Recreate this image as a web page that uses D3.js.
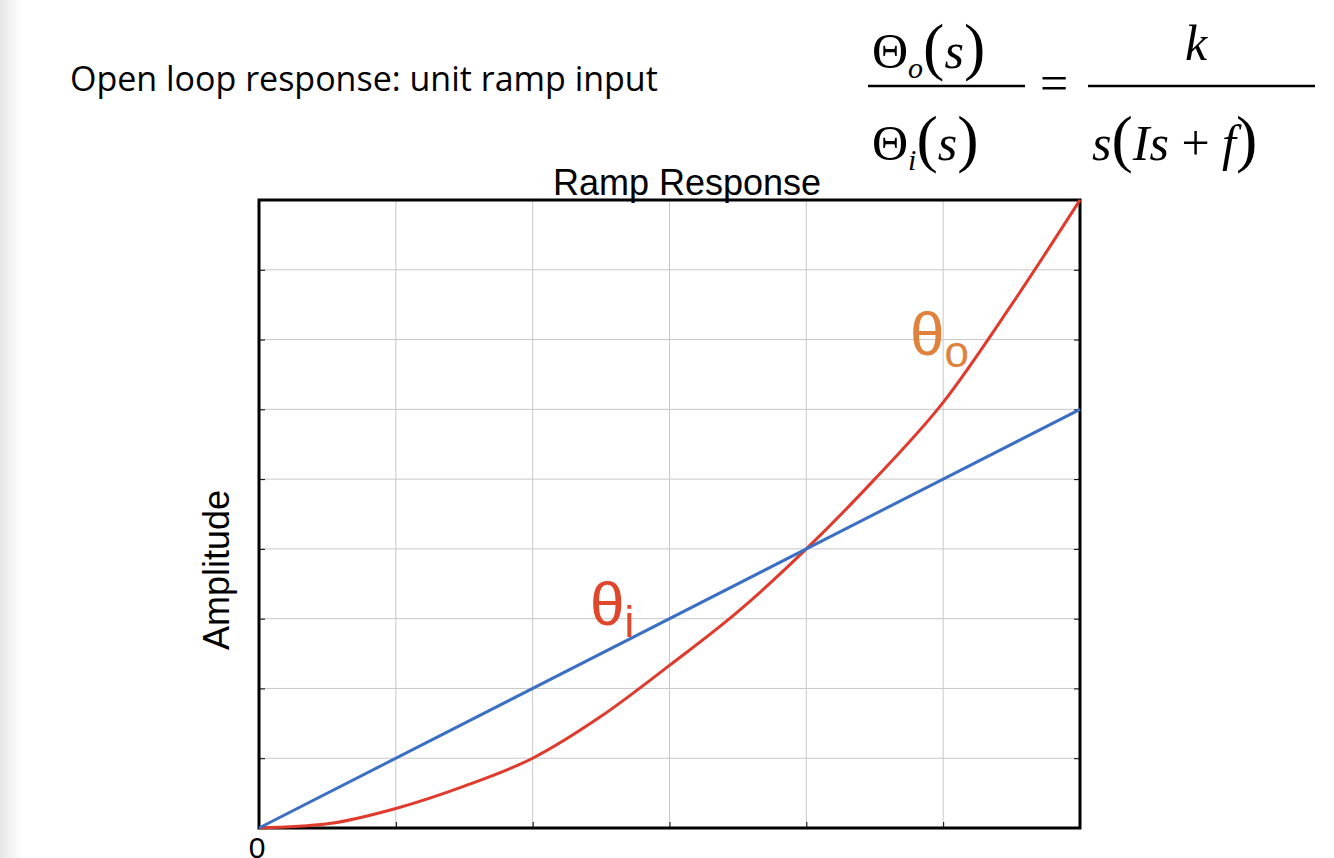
<!DOCTYPE html>
<html><head><meta charset="utf-8">
<script src="https://cdn.jsdelivr.net/npm/d3@7"></script>
<style>body{margin:0;background:#fff}</style>
</head><body>
<svg id="c" width="1334" height="858"></svg>
<script>
// Data (time in grid units, amplitude in grid units)
const timeTicks = [0, 1, 2, 3, 4, 5, 6];
const ampTicks = [0, 1, 2, 3, 4, 5, 6, 7, 8, 9];
const inputT = [0, 6];
const inputY = [0, 6];
const outT = [0, 0.5, 1, 1.5, 2, 2.5, 3, 3.5, 4, 4.5, 5, 5.5, 6];
const outY = [0, 0.06, 0.28, 0.6, 1.0, 1.6, 2.33, 3.1, 4.0, 5.0, 6.1, 7.5, 9.0];

const svg = d3.select("#c");
const pLeft = 259, pRight = 1080, pTop = 200, pBottom = 828;
const x = d3.scaleLinear().domain([0, 6]).range([pLeft, pRight]);
const y = d3.scaleLinear().domain([0, 9]).range([pBottom, pTop]);

// left page shade
const g0 = svg.append("defs").append("linearGradient").attr("id", "sh");
g0.append("stop").attr("offset", 0).attr("stop-color", "#e6e6e6");
g0.append("stop").attr("offset", 1).attr("stop-color", "#fff");
svg.append("rect").attr("width", 22).attr("height", 858).attr("fill", "url(#sh)");

// grid
svg.append("g").selectAll("line").data(timeTicks.slice(1, -1)).join("line")
    .attr("x1", d => x(d)).attr("x2", d => x(d)).attr("y1", pTop).attr("y2", pBottom)
    .attr("stroke", "#c8c8c8");
svg.append("g").selectAll("line").data(ampTicks.slice(1, -1)).join("line")
    .attr("y1", d => y(d)).attr("y2", d => y(d)).attr("x1", pLeft).attr("x2", pRight)
    .attr("stroke", "#c8c8c8");

// ticks
svg.append("g").attr("transform", `translate(0,${pBottom})`)
    .call(d3.axisBottom(x).tickValues(timeTicks).tickSize(-6).tickFormat(""))
    .call(g => g.select(".domain").remove());
svg.append("g").attr("transform", `translate(${pLeft},0)`)
    .call(d3.axisLeft(y).tickValues(ampTicks).tickSize(-6).tickFormat(""))
    .call(g => g.select(".domain").remove());
svg.append("g").attr("transform", `translate(${pRight},0)`)
    .call(d3.axisRight(y).tickValues(ampTicks).tickSize(-6).tickFormat(""))
    .call(g => g.select(".domain").remove());

svg.append("rect").attr("x", pLeft).attr("y", pTop).attr("width", pRight - pLeft).attr("height", pBottom - pTop)
    .attr("fill", "none").attr("stroke", "#000").attr("stroke-width", 3);

const line = d3.line().x(d => x(d[0])).y(d => y(d[1])).curve(d3.curveMonotoneX);
svg.append("path").datum(d3.zip(outT, outY)).attr("d", line)
    .attr("fill", "none").attr("stroke", "#e03a2c").attr("stroke-width", 3);
svg.append("path").datum(d3.zip(inputT, inputY)).attr("d", line)
    .attr("fill", "none").attr("stroke", "#3a6fc4").attr("stroke-width", 3);

const f = "Liberation Sans, Arial, sans-serif";
svg.append("text").attr("x", 687).attr("y", 195).attr("text-anchor", "middle")
    .attr("font-family", f).attr("font-size", 36).text("Ramp Response");
svg.append("text").attr("transform", "translate(229,570) rotate(-90)").attr("text-anchor", "middle")
    .attr("font-family", f).attr("font-size", 36).text("Amplitude");
svg.append("text").attr("x", 257).attr("y", 858).attr("text-anchor", "middle")
    .attr("font-family", f).attr("font-size", 30).text("0");

// curve labels
const lo = svg.append("text").attr("x", 910).attr("y", 355).attr("font-family", f)
    .attr("font-size", 62).attr("fill", "#e0823c");
lo.append("tspan").text("θ");
lo.append("tspan").attr("font-size", 44).attr("dy", 12).text("o");
const li = svg.append("text").attr("x", 590).attr("y", 625).attr("font-family", f)
    .attr("font-size", 62).attr("fill", "#e0462c");
li.append("tspan").text("θ");
li.append("tspan").attr("font-size", 44).attr("dy", 12).text("i");

// title
svg.append("text").attr("x", 70).attr("y", 91).attr("font-family", "Open Sans, Calibri, sans-serif")
    .attr("font-size", 34).text("Open loop response: unit ramp input");

// equation
const ef = "Liberation Serif, Times New Roman, serif";
function eq(xx, yy, parts) {
    const t = svg.append("text").attr("x", xx).attr("y", yy).attr("font-family", ef).attr("font-size", 50);
    parts.forEach(p => {
        const s = t.append("tspan").text(p[0]);
        if (p[1]) s.attr("font-style", "italic");
        if (p[2]) s.attr("font-size", p[2]);
        if (p[3]) s.attr("dy", p[3]);
    });
}
eq(872, 68, [["Θ"], ["o", 1, 30, 10], ["(", 0, 64, -10], ["s", 1], [")", 0, 64]]);
eq(872, 160, [["Θ"], ["i", 1, 30, 10], ["(", 0, 64, -10], ["s", 1], [")", 0, 64]]);
svg.append("line").attr("x1", 868).attr("x2", 1025).attr("y1", 86).attr("y2", 86).attr("stroke", "#000").attr("stroke-width", 2.5);
svg.append("text").attr("x", 1040).attr("y", 100).attr("font-family", ef).attr("font-size", 50).text("=");
svg.append("line").attr("x1", 1088).attr("x2", 1315).attr("y1", 86).attr("y2", 86).attr("stroke", "#000").attr("stroke-width", 2.5);
eq(1185, 60, [["k", 1]]);
eq(1092, 160, [["s", 1], ["(", 0, 64], ["Is", 1], [" + "], ["f", 1], [")", 0, 64]]);
</script>
</body></html>
